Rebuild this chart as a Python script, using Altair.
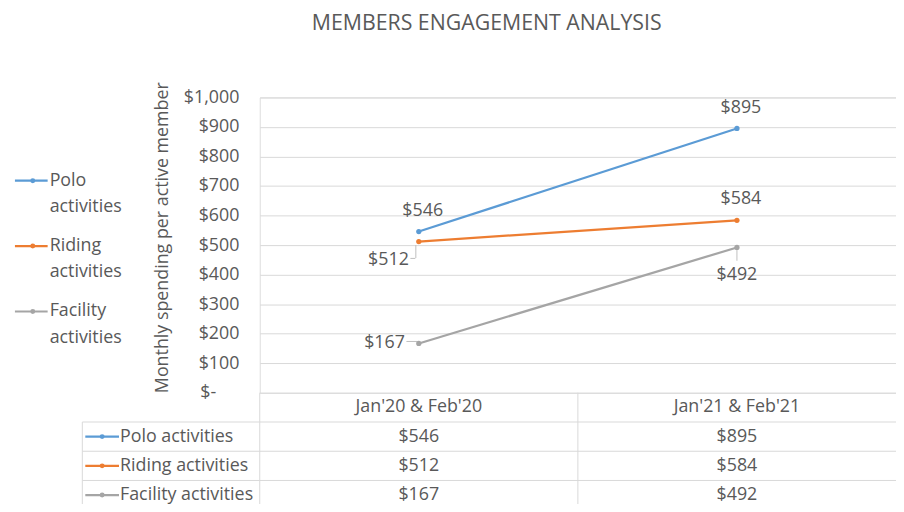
import altair as alt
import pandas as pd

categories = ["Jan'20 & Feb'20", "Jan'21 & Feb'21"]
series = ["Polo activities", "Riding activities", "Facility activities"]
polo = [546, 895]
riding = [512, 584]
facility = [167, 492]
colors = ["#5B9BD5", "#ED7D31", "#A5A5A5"]
y_ticks = [0, 100, 200, 300, 400, 500, 600, 700, 800, 900, 1000]
header_key = "header"

W, H = 642, 298
ROW = 29.5
FONT = "Open Sans"
FS = 18
GRAY = "#595959"
GRID = "#D9D9D9"
LEAD = "#BFBFBF"

rows = []
for s, vals in zip(series, [polo, riding, facility]):
    for i, (c, v) in enumerate(zip(categories, vals)):
        rows.append({"series": s, "category": c, "idx": i, "value": v})
df = pd.DataFrame(rows)
hdr = pd.DataFrame({"category": categories, "row": [header_key] * len(categories)})
lab = pd.DataFrame({"series": series})
one = pd.DataFrame({"k": [0]})

xscale = alt.Scale(type="band", domain=categories, paddingInner=0, paddingOuter=0)
yscale = alt.Scale(domain=[0, 1000], nice=False)
cscale = alt.Scale(domain=series, range=colors)
tscale = alt.Scale(type="band", domain=[header_key] + series,
                   range=[H, H + 4 * ROW], paddingInner=0, paddingOuter=0)
lscale = alt.Scale(type="point", domain=series, range=[84, 216], padding=0)

X = alt.X("category:N", scale=xscale, axis=None, bandPosition=0.5)
yaxis = alt.Axis(values=y_ticks,
                 labelExpr="datum.value === 0 ? '$-\u00a0\u00a0\u00a0\u00a0\u00a0\u200b' : '$' + format(datum.value, ',')",
                 grid=True, gridColor=GRID, gridWidth=1, domain=False, ticks=False,
                 labelPadding=21, titlePadding=12, labelFontSize=FS, titleFontSize=FS,
                 titleFontWeight="normal", labelColor=GRAY, titleColor=GRAY,
                 labelFont=FONT, titleFont=FONT, titleY=141)
Y = alt.Y("value:Q", scale=yscale, title="Monthly spending per active member", axis=yaxis)

lines = alt.Chart(df).mark_line(
    strokeWidth=2.25, point=alt.OverlayMarkDef(filled=True, size=28)
).encode(
    x=X, y=Y,
    color=alt.Color("series:N", scale=cscale, legend=None),
)


def labels(expr, **kw):
    return alt.Chart(df).transform_filter(expr).mark_text(
        font=FONT, fontSize=FS, color=GRAY, **kw
    ).encode(x=X, y=Y, text=alt.Text("value:Q", format="$,.0f"))


def leader(expr, **kw):
    return alt.Chart(df).transform_filter(expr).mark_tick(
        color=LEAD, thickness=1, opacity=1, **kw
    ).encode(x=X, y=Y)


R0 = "datum.series === 'Riding activities' && datum.idx === 0"
F0 = "datum.series === 'Facility activities' && datum.idx === 0"
F1 = "datum.series === 'Facility activities' && datum.idx === 1"

above = labels("datum.series === 'Polo activities' || (datum.series === 'Riding activities' && datum.idx === 1)",
               dy=-21, dx=4)
below = labels(F1, dy=28)
below_left = labels(R0, dy=19, dx=-10, align="right")
left = labels(F0, dx=-14, align="right")

lead_r0v = leader(R0, orient="vertical", size=13, yOffset=10, xOffset=-3)
lead_r0h = leader(R0, orient="horizontal", size=5, yOffset=17, xOffset=-6)
lead_f0 = leader(F0, orient="horizontal", size=11, yOffset=-2, xOffset=-7)
lead_f1 = leader(F1, orient="vertical", size=11, yOffset=8)

main = alt.layer(lead_r0v, lead_r0h, lead_f0, lead_f1, lines, above, below, below_left, left)

# data table under the plot
TY = lambda f, bp=0.5: alt.Y(f, scale=tscale, axis=None, bandPosition=bp)

hlines = alt.Chart(lab).mark_rule(color=GRID, strokeWidth=1).encode(
    x=alt.value(-179), x2=alt.value(W), y=TY("series:N", 0))
vlines = alt.Chart(hdr).mark_rule(color=GRID, strokeWidth=1).encode(
    x=alt.X("category:N", scale=xscale, axis=None, bandPosition=0),
    y=alt.value(H), y2=alt.value(H + 4 * ROW))
lborder = alt.Chart(one).mark_rule(color=GRID, strokeWidth=1).encode(
    x=alt.value(-179), y=alt.value(H + ROW), y2=alt.value(H + 4 * ROW))
hdr_text = alt.Chart(hdr).mark_text(font=FONT, fontSize=FS, color=GRAY).encode(
    x=X, y=TY("row:N"), text="category:N")
cell_text = alt.Chart(df).mark_text(font=FONT, fontSize=FS, color=GRAY).encode(
    x=X, y=TY("series:N"), text=alt.Text("value:Q", format="$,.0f"))
row_text = alt.Chart(lab).mark_text(font=FONT, fontSize=FS, color=GRAY, align="left").encode(
    x=alt.value(-141), y=TY("series:N"), text="series:N")
key_line = alt.Chart(lab).mark_rule(strokeWidth=2.25).encode(
    x=alt.value(-176), x2=alt.value(-142), y=TY("series:N"),
    color=alt.Color("series:N", scale=cscale, legend=None))
key_dot = alt.Chart(lab).mark_point(filled=True, size=25, opacity=1).encode(
    x=alt.value(-159), y=TY("series:N"),
    color=alt.Color("series:N", scale=cscale, legend=None))

table = alt.layer(hlines, vlines, lborder, hdr_text, cell_text, row_text, key_line, key_dot)

# legend on the left
LY = alt.Y("series:N", scale=lscale, axis=None)
leg_line = alt.Chart(lab).mark_rule(strokeWidth=2.25).encode(
    x=alt.value(-247), x2=alt.value(-214), y=LY,
    color=alt.Color("series:N", scale=cscale, legend=None))
leg_dot = alt.Chart(lab).mark_point(filled=True, size=25, opacity=1).encode(
    x=alt.value(-229), y=LY,
    color=alt.Color("series:N", scale=cscale, legend=None))
leg_text = alt.Chart(lab).transform_calculate(lbl="split(datum.series, ' ')").mark_text(
    font=FONT, fontSize=FS, color=GRAY, align="left", baseline="middle", lineHeight=26.5
).encode(x=alt.value(-212), y=LY, text="lbl:N")
legend = alt.layer(leg_line, leg_dot, leg_text)

chart = alt.layer(main, table, legend).resolve_scale(y="independent", color="independent").properties(
    width=W, height=H,
    padding={"left": 254, "top": 88, "right": 0, "bottom": 110},
    autosize="none",
    title=alt.TitleParams(text="MEMBERS ENGAGEMENT ANALYSIS", font=FONT, fontSize=21.5,
                          fontWeight="normal", color=GRAY, anchor="middle", dx=-92, offset=48),
).configure_view(stroke=None).configure(background="white")

chart.save("out.html", embed_options={"renderer": "svg", "actions": False})
